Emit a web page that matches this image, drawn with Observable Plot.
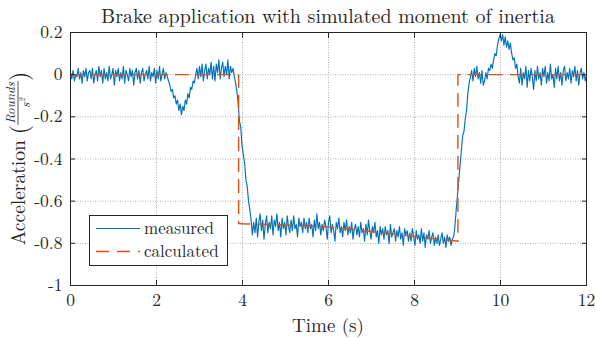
<!DOCTYPE html>
<html><head><meta charset="utf-8">
<script src="https://cdn.jsdelivr.net/npm/d3@7"></script>
<script src="https://cdn.jsdelivr.net/npm/@observablehq/plot@0.6"></script>
<style>
body{margin:0;background:#fff;}
</style></head><body><div id="chart"></div>
<script>
const title = "Brake application with simulated moment of inertia";
const xLabel = "Time (s)";
const yLabelMain = "Acceleration";
const yLabelNum = "Rounds";
const yLabelDen = "s";
const xTicks = [0, 2, 4, 6, 8, 10, 12];
const yTicks = [0.2, 0, -0.2, -0.4, -0.6, -0.8, -1];
const seriesNames = ["measured", "calculated"];

// measured signal, sampled every dt seconds from t0
const t0 = 0, dt = 0.03;
const measured = [
0.01,-0.02,0.02,-0.03,0.00,-0.01,0.03,-0.02,0.01,-0.04,0.02,-0.01,0.03,-0.03,0.01,0.02,-0.02,0.03,-0.04,0.00,
0.02,-0.03,0.04,-0.01,0.02,-0.04,0.03,-0.02,0.01,-0.03,0.04,-0.02,0.00,0.03,-0.05,0.02,-0.01,0.03,-0.03,0.01,
-0.02,0.04,-0.04,0.02,0.00,-0.03,0.03,-0.01,0.02,-0.05,0.01,0.03,-0.02,0.02,-0.04,0.01,0.03,-0.03,0.00,0.02,
-0.02,0.04,-0.03,0.01,-0.01,0.03,-0.04,0.02,-0.02,0.04,-0.03,0.00,0.03,-0.02,0.01,-0.01,
-0.03,-0.05,-0.08,-0.07,-0.11,-0.10,-0.14,-0.12,-0.17,-0.14,-0.19,-0.15,-0.17,-0.12,-0.14,-0.09,-0.11,-0.06,-0.07,-0.03,-0.04,0.00,
0.03,-0.02,0.04,-0.01,0.05,-0.03,0.02,0.05,-0.02,0.03,0.00,0.06,-0.02,0.04,-0.03,0.05,0.01,0.07,-0.02,0.03,
0.06,-0.01,0.04,0.00,0.07,-0.02,0.04,0.01,0.03,
-0.01,-0.04,-0.08,-0.14,-0.22,-0.25,-0.34,-0.38,-0.42,-0.50,-0.53,-0.60,-0.64,-0.69,-0.76,-0.70,
-0.75,-0.68,-0.77,-0.70,-0.66,-0.74,-0.69,-0.78,-0.71,-0.67,-0.75,-0.70,-0.73,-0.67,-0.76,-0.69,-0.72,-0.66,-0.74,-0.70,
-0.77,-0.68,-0.73,-0.70,-0.76,-0.67,-0.72,-0.75,-0.69,-0.74,-0.67,-0.73,-0.71,-0.77,-0.68,-0.72,-0.70,-0.75,-0.68,-0.73,
-0.70,-0.75,-0.68,-0.73,-0.71,-0.77,-0.69,-0.74,-0.66,-0.73,-0.70,-0.76,-0.71,-0.74,-0.69,-0.72,-0.78,-0.70,-0.67,-0.75,
-0.71,-0.74,-0.79,-0.70,-0.73,-0.68,-0.75,-0.72,-0.77,-0.70,-0.74,-0.69,-0.76,-0.72,-0.75,-0.70,-0.78,-0.73,-0.71,-0.76,
-0.72,-0.77,-0.70,-0.75,-0.73,-0.79,-0.71,-0.76,-0.69,-0.74,-0.78,-0.72,-0.75,-0.70,-0.77,-0.74,-0.80,-0.72,-0.76,-0.73,
-0.78,-0.72,-0.76,-0.74,-0.80,-0.71,-0.77,-0.75,-0.73,-0.79,-0.74,-0.77,-0.72,-0.78,-0.75,-0.81,-0.73,-0.76,-0.74,-0.79,
-0.75,-0.79,-0.73,-0.77,-0.81,-0.74,-0.78,-0.76,-0.80,-0.73,-0.79,-0.75,-0.82,-0.76,-0.78,-0.74,-0.80,-0.77,-0.75,-0.81,
-0.77,-0.80,-0.76,-0.81,-0.78,-0.75,-0.80,-0.77,-0.82,-0.76,-0.79,-0.77,-0.81,-0.78,
-0.77,-0.72,-0.64,-0.57,-0.50,-0.43,-0.36,-0.29,-0.27,-0.21,-0.17,-0.09,-0.04,-0.01,
0.02,-0.03,0.03,-0.01,0.04,-0.02,0.01,-0.04,0.02,-0.05,-0.03,0.01,-0.02,0.03,
0.02,0.05,0.03,0.07,0.10,0.09,0.14,0.17,0.19,0.16,0.19,0.14,0.18,0.13,0.16,0.12,0.15,0.10,0.07,0.08,0.03,0.05,-0.01,
-0.04,0.03,-0.05,0.01,-0.02,0.04,-0.06,0.02,-0.03,0.03,-0.01,-0.07,0.02,-0.03,0.04,-0.02,0.01,-0.05,0.03,-0.01,
0.04,-0.04,0.01,-0.03,0.05,-0.02,0.00,-0.06,0.03,-0.02,0.04,-0.03,0.01,-0.05,0.02,0.04,-0.03,0.01,-0.02,0.03,
-0.04,0.02,-0.01,0.04,-0.03,0.02,-0.05,0.01,0.03,-0.02,0.01,-0.03,0.00
];

// calculated (simulated) acceleration
const calcTime  = [0, 3.91, 3.91, 4.0, 5.0, 6.0, 7.0, 8.0, 8.91, 9.01, 9.01, 12];
const calcValue = [0, 0, -0.706, -0.707, -0.713, -0.722, -0.744, -0.768, -0.788, -0.79, 0, 0];

const measuredData = measured.map((v, i) => ({t: t0 + i * dt, v}));
const calcData = calcTime.map((t, i) => ({t, v: calcValue[i]}));

const ink = "#262626";
const blue = "#0072BD", orange = "#D95319";
const FONT = "Latin Modern Roman";
const fmt = d => String(d);

const chart = Plot.plot({
  width: 596, height: 338,
  marginLeft: 70, marginRight: 10, marginTop: 32, marginBottom: 53,
  style: {fontFamily: FONT, fontSize: "17.5px", color: ink, background: "white", overflow: "visible"},
  x: {domain: [0, 12]},
  y: {domain: [-1, 0.2]},
  marks: [
    Plot.gridX(xTicks, {stroke: "#b0b0b0", strokeOpacity: 1, strokeDasharray: "1,1.5"}),
    Plot.gridY(yTicks, {stroke: "#b0b0b0", strokeOpacity: 1, strokeDasharray: "1,1.5"}),
    Plot.line(measuredData, {x: "t", y: "v", stroke: blue, strokeWidth: 1.15}),
    Plot.line(calcData, {x: "t", y: "v", stroke: orange, strokeWidth: 1.4, strokeDasharray: "13,8"}),
    Plot.frame({stroke: ink}),
    Plot.axisX(xTicks, {anchor: "bottom", tickSize: -5, tickPadding: 13, tickFormat: fmt, label: null, fontSize: 17.5, fontFamily: FONT}),
    Plot.axisX(xTicks, {anchor: "top", tickSize: -5, tickFormat: () => "", label: null}),
    Plot.axisY(yTicks, {anchor: "left", tickSize: -5, tickPadding: 13, tickFormat: fmt, label: null, fontSize: 17.5, fontFamily: FONT}),
    Plot.axisY(yTicks, {anchor: "right", tickSize: -5, tickFormat: () => "", label: null})
  ]
});
document.getElementById("chart").appendChild(chart);

const svg = d3.select(chart);
const cx = (70 + 586) / 2;
const txt = (sel) => sel.append("text").attr("font-family", FONT).attr("fill", ink).attr("text-anchor", "start");

// title
txt(svg).attr("x", cx).attr("y", 23).attr("text-anchor", "middle").attr("font-size", 20).text(title);
// x label
txt(svg).attr("x", cx).attr("y", 332).attr("text-anchor", "middle").attr("font-size", 19).text(xLabel);

// y label with fraction
const g = svg.append("g").attr("transform", `translate(0,${(32 + 285) / 2}) rotate(-90)`);
const tMain = txt(g).attr("font-size", 19.5).attr("y", 25).text(yLabelMain);
const pL = txt(g).attr("font-size", 24).attr("y", 27).text("(");
const num = txt(g).attr("font-size", 13).attr("font-style", "italic").attr("y", 14.5).attr("text-anchor", "middle").text(yLabelNum);
const den = txt(g).attr("font-size", 13).attr("font-style", "italic").attr("y", 30).attr("text-anchor", "middle");
den.append("tspan").text(yLabelDen);
den.append("tspan").attr("font-size", 9).attr("dy", -5).text("2");
const bar = g.append("line").attr("stroke", ink).attr("stroke-width", 0.8).attr("y1", 18).attr("y2", 18);
const pR = txt(g).attr("font-size", 24).attr("y", 27).text(")");
const w1 = tMain.node().getComputedTextLength();
const wl = pL.node().getComputedTextLength();
const wn = num.node().getComputedTextLength();
const wr = pR.node().getComputedTextLength();
const gap = 6, fracW = wn + 2;
const total = w1 + gap + wl + fracW + wr;
let u = -total / 2;
tMain.attr("x", u); u += w1 + gap;
pL.attr("x", u); u += wl;
num.attr("x", u + fracW / 2); den.attr("x", u + fracW / 2);
bar.attr("x1", u).attr("x2", u + fracW); u += fracW;
pR.attr("x", u);

// legend
const leg = svg.append("g");
leg.append("rect").attr("x", 89.5).attr("y", 215.5).attr("width", 138).attr("height", 50)
  .attr("fill", "white").attr("stroke", ink);
const legStyles = [{stroke: blue, w: 1.15, dash: null}, {stroke: orange, w: 1.4, dash: "13,8"}];
seriesNames.forEach((name, i) => {
  const y = 228.5 + i * 23;
  leg.append("line").attr("x1", 96).attr("x2", 140).attr("y1", y).attr("y2", y)
    .attr("stroke", legStyles[i].stroke).attr("stroke-width", legStyles[i].w)
    .attr("stroke-dasharray", legStyles[i].dash);
  txt(leg).attr("x", 144).attr("y", y).attr("dy", "0.33em").attr("font-size", 17).text(name);
});
</script></body></html>
